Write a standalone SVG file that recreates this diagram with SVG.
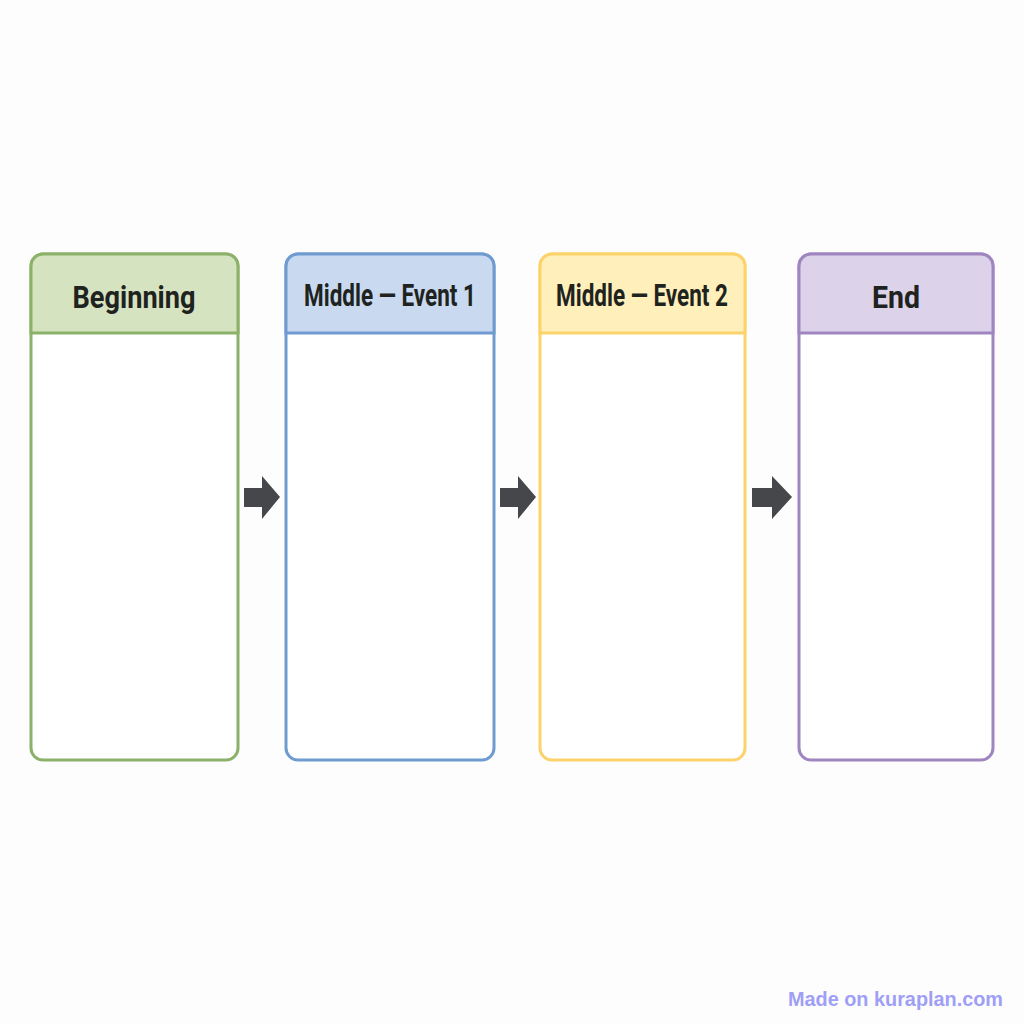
<svg xmlns="http://www.w3.org/2000/svg" width="1024" height="1024" viewBox="0 0 1024 1024">
<style>
.t{font-family:"Liberation Sans Narrow","Roboto","Liberation Sans",sans-serif;font-weight:bold;font-size:32px;fill:#1f2320;text-anchor:middle}
.box{fill:#ffffff;stroke-width:3}
.arr{fill:#45474b}
</style>
<rect width="1024" height="1024" fill="#fdfdfd"/>
<g id="node-beginning">
<rect class="box" x="31" y="254" width="207" height="506" rx="12" stroke="#8cb26a"/>
<path d="M31 333 V266 a12 12 0 0 1 12 -12 H226 a12 12 0 0 1 12 12 V333 Z" fill="#d5e3c1" stroke="#8cb26a" stroke-width="3"/>
<text class="t" x="134" y="308" textLength="123" lengthAdjust="spacingAndGlyphs">Beginning</text>
</g>
<g id="node-middle1">
<rect class="box" x="286" y="254" width="208" height="506" rx="12" stroke="#6f9bd1"/>
<path d="M286 333 V266 a12 12 0 0 1 12 -12 H482 a12 12 0 0 1 12 12 V333 Z" fill="#c9daf0" stroke="#6f9bd1" stroke-width="3"/>
<text class="t" x="390" y="306" font-size="28" textLength="172" lengthAdjust="spacingAndGlyphs">Middle — Event 1</text>
</g>
<g id="node-middle2">
<rect class="box" x="540" y="254" width="205" height="506" rx="12" stroke="#fcd36b"/>
<path d="M540 333 V266 a12 12 0 0 1 12 -12 H733 a12 12 0 0 1 12 12 V333 Z" fill="#fff0bb" stroke="#fcd36b" stroke-width="3"/>
<text class="t" x="642" y="306" font-size="28" textLength="172" lengthAdjust="spacingAndGlyphs">Middle — Event 2</text>
</g>
<g id="node-end">
<rect class="box" x="799" y="254" width="194" height="506" rx="12" stroke="#9f86c0"/>
<path d="M799 333 V266 a12 12 0 0 1 12 -12 H981 a12 12 0 0 1 12 12 V333 Z" fill="#dcd3ea" stroke="#9f86c0" stroke-width="3"/>
<text class="t" x="896" y="308" textLength="48" lengthAdjust="spacingAndGlyphs">End</text>
</g>
<g id="connectors">
<path class="arr" d="M244 488 H262 V476 L280 497 L262 519 V507 H244 Z"/>
<path class="arr" d="M500 488 H518 V476 L536 497 L518 519 V507 H500 Z"/>
<path class="arr" d="M752 488 H772 V476 L792 497 L772 519 V507 H752 Z"/>
</g>
<text x="1003" y="1006" font-family="Liberation Sans,Arial,sans-serif" font-weight="bold" font-size="20" fill="#9f9ff7" text-anchor="end" textLength="215" lengthAdjust="spacingAndGlyphs">Made on kuraplan.com</text>
</svg>
